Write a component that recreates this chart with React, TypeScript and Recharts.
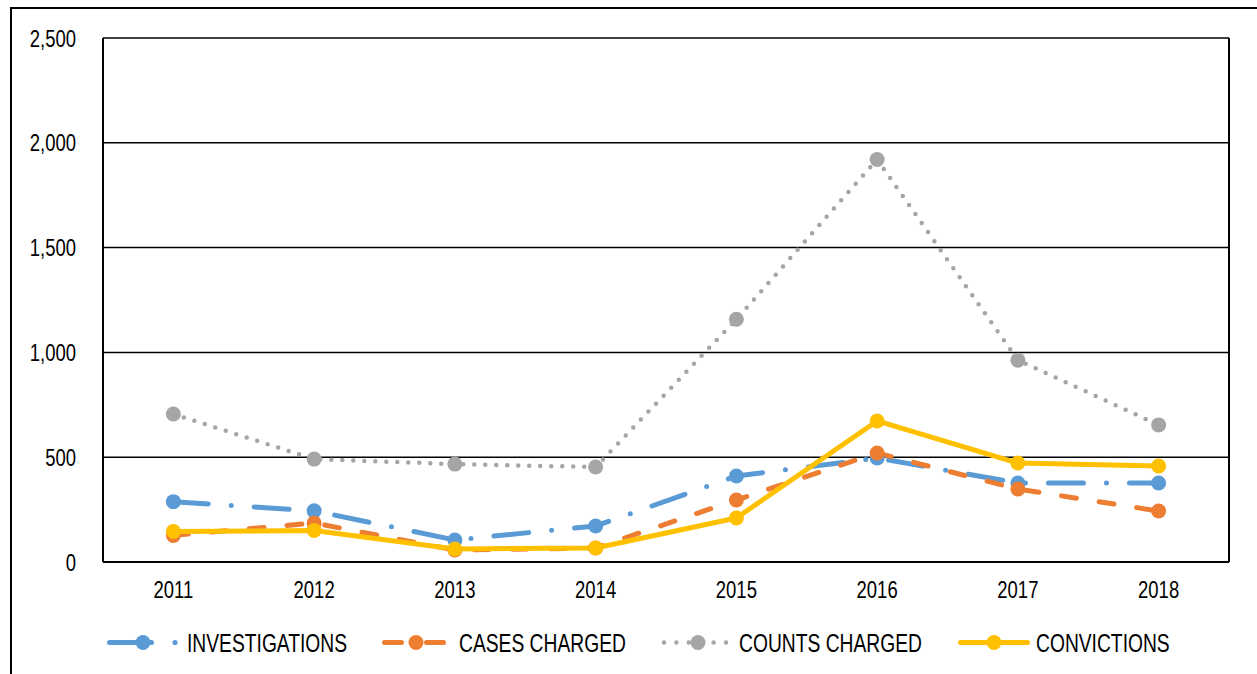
import { LineChart, Line, XAxis, YAxis, CartesianGrid } from 'recharts'

const years = ['2011', '2012', '2013', '2014', '2015', '2016', '2017', '2018']
const investigations = [288, 244, 105, 172, 410, 496, 377, 377]
const casesCharged = [127, 186, 57, 67, 296, 520, 348, 243]
const countsCharged = [706, 491, 467, 453, 1158, 1920, 963, 654]
const convictions = [146, 150, 62, 67, 210, 673, 472, 458]
const yTicks = [0, 500, 1000, 1500, 2000, 2500]

// no Arial Narrow installed, so squeeze Liberation Sans horizontally
const FONT = "'Liberation Sans', Arial, sans-serif"
const NARROW = 0.77

const data = years.map((year, i) => ({
  year,
  investigations: investigations[i],
  casesCharged: casesCharged[i],
  countsCharged: countsCharged[i],
  convictions: convictions[i],
}))

const series = [
  { key: 'investigations', name: 'INVESTIGATIONS', color: '#5B9BD5', dash: '35 23 0 23', width: 5 },
  { key: 'casesCharged', name: 'CASES CHARGED', color: '#ED7D31', dash: '15 23', width: 5 },
  { key: 'countsCharged', name: 'COUNTS CHARGED', color: '#A5A5A5', dash: '0 11', width: 4.5 },
  { key: 'convictions', name: 'CONVICTIONS', color: '#FFC000', dash: undefined, width: 5 },
]

// legend swatches, page x coords
const legendIcons = [
  { x1: 109.5, x2: 151.5, dash: undefined, marker: 143, extraDot: 175, textX: 187 },
  { x1: 384.5, x2: 443.5, dash: '17 25', marker: 416, extraDot: 0, textX: 459 },
  { x1: 664, x2: 727, dash: '0 12.4', marker: 698, extraDot: 0, textX: 739 },
  { x1: 960.5, x2: 1027.5, dash: undefined, marker: 994, extraDot: 0, textX: 1036 },
]
const LEGEND_Y = 642.5

function NarrowTick(props: any) {
  const { x, y, payload, textAnchor, dy, formatter } = props
  const label = formatter ? formatter(payload.value) : payload.value
  return (
    <g transform={`translate(${x},${y})`}>
      <text
        transform={`scale(${NARROW},1)`}
        textAnchor={textAnchor}
        dy={dy}
        fill="#000"
        fontSize={24}
        fontFamily={FONT}
      >
        {label}
      </text>
    </g>
  )
}

function LegendRow() {
  return (
    <>
      <svg width={1257} height={674} style={{ position: 'absolute', left: 0, top: 0 }}>
        {series.map((s, i) => {
          const l = legendIcons[i]
          return (
            <g key={s.key}>
              <line
                x1={l.x1}
                x2={l.x2}
                y1={LEGEND_Y}
                y2={LEGEND_Y}
                stroke={s.color}
                strokeWidth={s.width}
                strokeLinecap="round"
                strokeDasharray={l.dash}
              />
              {l.extraDot > 0 && <circle cx={l.extraDot} cy={LEGEND_Y} r={2.6} fill={s.color} />}
              <circle cx={l.marker} cy={LEGEND_Y} r={7.5} fill={s.color} />
            </g>
          )
        })}
      </svg>
      {series.map((s, i) => (
        <span
          key={s.key}
          style={{
            position: 'absolute',
            left: legendIcons[i].textX,
            top: 628,
            lineHeight: '30px',
            fontFamily: FONT,
            fontSize: 25,
            color: '#000',
            whiteSpace: 'nowrap',
            transform: `scaleX(${NARROW})`,
            transformOrigin: 'left center',
          }}
        >
          {s.name}
        </span>
      ))}
    </>
  )
}

export default function App() {
  return (
    <div style={{ position: 'absolute', left: 0, top: 0, width: 1257, height: 674, overflow: 'hidden', background: '#fff' }}>
      <div
        style={{
          position: 'absolute',
          left: 10,
          top: 7,
          width: 1300,
          height: 700,
          border: '2px solid #000',
        }}
      />
      <div style={{ position: 'absolute', left: 0, top: 0 }}>
        <LineChart width={1257} height={674} data={data} margin={{ top: 38, right: 27, bottom: 82, left: 43 }}>
          <CartesianGrid horizontal vertical={false} stroke="#000" strokeWidth={1.5} />
          <XAxis
            dataKey="year"
            scale="band"
            axisLine={{ stroke: '#000', strokeWidth: 2 }}
            tickLine={false}
            tickSize={0}
            tickMargin={19}
            height={30}
            tick={<NarrowTick textAnchor="middle" dy="0.71em" />}
          />
          <YAxis
            domain={[0, 2500]}
            ticks={yTicks}
            width={60}
            axisLine={{ stroke: '#000', strokeWidth: 2 }}
            tickLine={false}
            tickSize={0}
            tickMargin={27}
            tick={
              <NarrowTick
                textAnchor="end"
                dy="0.355em"
                formatter={(v: number) => v.toLocaleString('en-US')}
              />
            }
          />
          <YAxis
            yAxisId="right"
            orientation="right"
            domain={[0, 2500]}
            width={1}
            tick={false}
            tickLine={false}
            axisLine={{ stroke: '#000', strokeWidth: 2 }}
          />
          {series.map((s) => (
            <Line
              key={s.key}
              type="linear"
              dataKey={s.key}
              name={s.name}
              stroke={s.color}
              strokeWidth={s.width}
              strokeDasharray={s.dash}
              strokeLinecap="round"
              strokeLinejoin="round"
              dot={{ r: 7.5, fill: s.color, stroke: 'none', strokeDasharray: '' }}
              activeDot={false}
              isAnimationActive={false}
            />
          ))}
        </LineChart>
      </div>
      <LegendRow />
    </div>
  )
}
